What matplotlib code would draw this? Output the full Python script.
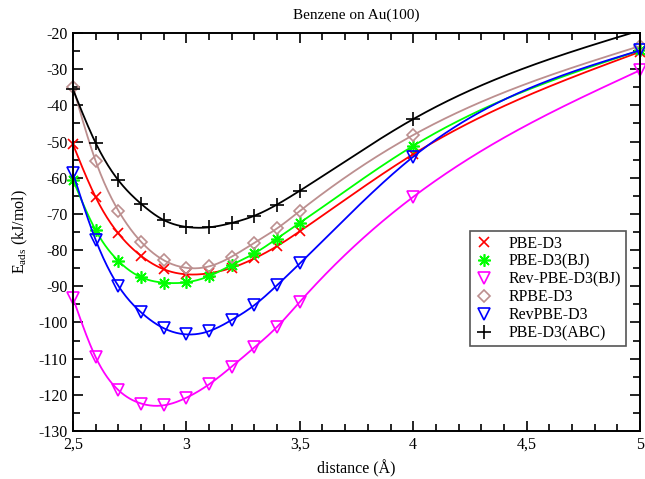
import matplotlib
matplotlib.use("Agg")
import matplotlib.pyplot as plt
import numpy as np
from matplotlib.ticker import MultipleLocator, FuncFormatter

plt.rcParams["font.family"] = ["Liberation Serif", "DejaVu Serif"]
plt.rcParams["mathtext.fontset"] = "custom"
plt.rcParams["mathtext.rm"] = "Liberation Serif"
plt.rcParams["axes.unicode_minus"] = False

# ── Data ──────────────────────────────────────────────────────────────────────
distance = [2.5, 2.6, 2.7, 2.8, 2.9, 3.0, 3.1, 3.2, 3.3, 3.4, 3.5, 4.0, 5.0]

pbe_d3 = [-50.8, -65.4, -75.4, -81.6, -85.3, -86.7, -86.4, -84.9, -82.3, -78.9, -74.8, -53.5, -25.2]
pbe_d3_bj = [-60.6, -74.5, -83.0, -87.5, -89.0, -88.9, -87.2, -84.1, -80.9, -76.8, -72.5, -51.2, -24.8]
rev_pbe_d3_bj = [-93.3, -109.6, -118.7, -122.4, -122.9, -120.8, -117.1, -112.2, -106.9, -101.2, -94.3, -65.3, -30.3]
rpbe_d3 = [-34.9, -55.4, -69.1, -77.7, -82.8, -84.9, -84.5, -81.8, -78.0, -74.0, -69.2, -48.2, -23.6]
revpbe_d3 = [-58.8, -77.2, -89.9, -97.2, -101.6, -103.3, -102.4, -99.3, -95.2, -89.7, -83.7, -54.2, -24.8]
pbe_d3_abc = [-35.6, -50.4, -60.7, -67.2, -71.7, -73.6, -73.7, -72.5, -70.5, -67.4, -63.6, -43.8, -19.3]

labels = ["PBE-D3", "PBE-D3(BJ)", "Rev-PBE-D3(BJ)", "RPBE-D3", "RevPBE-D3", "PBE-D3(ABC)"]
series = [pbe_d3, pbe_d3_bj, rev_pbe_d3_bj, rpbe_d3, revpbe_d3, pbe_d3_abc]
colors = ["#ff0000", "#00ff00", "#ff00ff", "#bc8f8f", "#0000ff", "#000000"]
markers = ["x", (8, 2, 0), "v", "D", "v", "+"]
msizes = [7, 9, 9, 6.5, 9, 9.5]


def natural_spline(x, y, xs):
    """Natural cubic spline through (x, y), evaluated at xs."""
    x = np.asarray(x, float)
    y = np.asarray(y, float)
    n = len(x)
    h = np.diff(x)
    A = np.zeros((n, n))
    rhs = np.zeros(n)
    A[0, 0] = A[-1, -1] = 1.0
    for i in range(1, n - 1):
        A[i, i - 1] = h[i - 1]
        A[i, i] = 2 * (h[i - 1] + h[i])
        A[i, i + 1] = h[i]
        rhs[i] = 6 * ((y[i + 1] - y[i]) / h[i] - (y[i] - y[i - 1]) / h[i - 1])
    M = np.linalg.solve(A, rhs)
    k = np.clip(np.searchsorted(x, xs) - 1, 0, n - 2)
    x0, x1, hh = x[k], x[k + 1], h[k]
    return (M[k] * (x1 - xs) ** 3 / (6 * hh) + M[k + 1] * (xs - x0) ** 3 / (6 * hh)
            + (y[k] / hh - M[k] * hh / 6) * (x1 - xs)
            + (y[k + 1] / hh - M[k + 1] * hh / 6) * (xs - x0))


# ── Plot ──────────────────────────────────────────────────────────────────────
fig = plt.figure(figsize=(6.45, 4.79), dpi=100)
fig.subplots_adjust(left=73 / 645, right=640 / 645, top=1 - 33 / 479, bottom=1 - 431 / 479)
ax = fig.add_subplot(111)

xs = np.linspace(distance[0], distance[-1], 600)
handles = []
for vals, lab, c, m, ms in zip(series, labels, colors, markers, msizes):
    ax.plot(xs, natural_spline(distance, vals, xs), color=c, lw=1.3)
    d = np.array(distance)
    v = np.array(vals)
    keep = v <= -20
    mfc = "none" if m in ("v", "D") else c
    ax.plot(d[keep], v[keep], ls="none", marker=m, ms=ms, mec=c, mfc=mfc,
            mew=1.2, clip_on=False)
    h, = ax.plot([], [], ls="none", marker=m, ms=ms, mec=c, mfc=mfc, mew=1.2)
    handles.append(h)

ax.set_xlim(2.5, 5)
ax.set_ylim(-130, -20)
ax.xaxis.set_major_locator(MultipleLocator(0.5))
ax.xaxis.set_minor_locator(MultipleLocator(0.1))
ax.yaxis.set_major_locator(MultipleLocator(10))
ax.yaxis.set_minor_locator(MultipleLocator(5))
ax.xaxis.set_major_formatter(FuncFormatter(lambda v, p: f"{v:g}".replace(".", ",")))
ax.tick_params(which="both", direction="in", top=True, right=True, labelsize=11.5,
               width=1.2, pad=4)
ax.tick_params(which="major", length=7.5)
ax.tick_params(which="minor", length=5)
for sp in ax.spines.values():
    sp.set_linewidth(1.4)

ax.set_title("Benzene on Au(100)", fontsize=11, pad=10)
ax.set_xlabel("distance (Å)", fontsize=11.5, labelpad=5)
ax.set_ylabel(r"E$_{\mathrm{ads}}$ (kJ/mol)", fontsize=11.5, labelpad=6)

leg = ax.legend(handles, labels,
                loc="upper left", bbox_to_anchor=(0.700, 0.503), fontsize=11.5,
                frameon=True, fancybox=False, edgecolor="#555555", framealpha=1,
                handlelength=1.2, handletextpad=0.9, labelspacing=0.12,
                borderpad=0.3, borderaxespad=0)
leg.get_frame().set_linewidth(1.2)

fig.savefig("out.png", dpi=100)
